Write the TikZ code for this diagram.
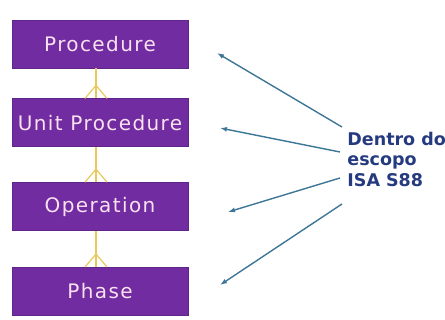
\documentclass[tikz,border=0pt]{standalone}
\usepackage{fontspec}
\setmainfont{DejaVu Sans}
\usetikzlibrary{positioning,calc,arrows.meta}
\definecolor{boxpurple}{RGB}{112,44,160}
\definecolor{boxtext}{RGB}{250,225,240}
\definecolor{linkyellow}{RGB}{232,200,90}
\definecolor{arrowblue}{RGB}{62,118,150}
\definecolor{scopeblue}{RGB}{38,58,128}

\begin{document}
\begin{tikzpicture}[x=1pt, y=-1pt, thick,
    box/.style = {draw=boxpurple!85!black, fill=boxpurple, minimum width=176pt, minimum height=48pt,
      text=boxtext, font=\fontsize{20}{23}\selectfont\addfontfeatures{LetterSpace=7}},
    link/.style = {draw=linkyellow, line width=1.2pt},
    pointer/.style = {draw=arrowblue, line width=1.4pt, -{Latex[length=7pt,width=5pt]}}]
    \useasboundingbox (0,0) rectangle (445,320);
    % hierarchy boxes
    \node[box] (proc) at (100,44) {Procedure};
    \node[box] (unitproc) [below=30pt of proc] {Unit Procedure};
    \node[box] (oper) [below=35pt of unitproc] {Operation};
    \node[box] (phase) [below=36pt of oper] {Phase};
    % crow's foot links
    \foreach \up/\low in {proc/unitproc, unitproc/oper, oper/phase} {
        \draw[link] ($(\up.south)+(-4,0)$) -- ($(\low.north)+(-4,0)$);
        \draw[link] ($(\low.north)+(-15,0)$) -- ($(\low.north)+(-4,-13)$) -- ($(\low.north)+(7,0)$);
    }
    % scope label
    \node[anchor=west, align=left, inner sep=0pt, text=scopeblue,
        font=\fontsize{17.5}{20.5}\selectfont\bfseries] (scopetext) at (347,159) {Dentro do\\escopo\\ISA S88};
    \coordinate (s1) at (342,127);
    \coordinate (s2) at (340,152);
    \coordinate (s3) at (340,178);
    \coordinate (s4) at (342,204);
    \coordinate (t1) at (217,53);
    \coordinate (t2) at (220,128);
    \coordinate (t3) at (228,212);
    \coordinate (t4) at (220,285);
    \draw[pointer] (s1) -- (t1);
    \draw[pointer] (s2) -- (t2);
    \draw[pointer] (s3) -- (t3);
    \draw[pointer] (s4) -- (t4);
\end{tikzpicture}
\end{document}
